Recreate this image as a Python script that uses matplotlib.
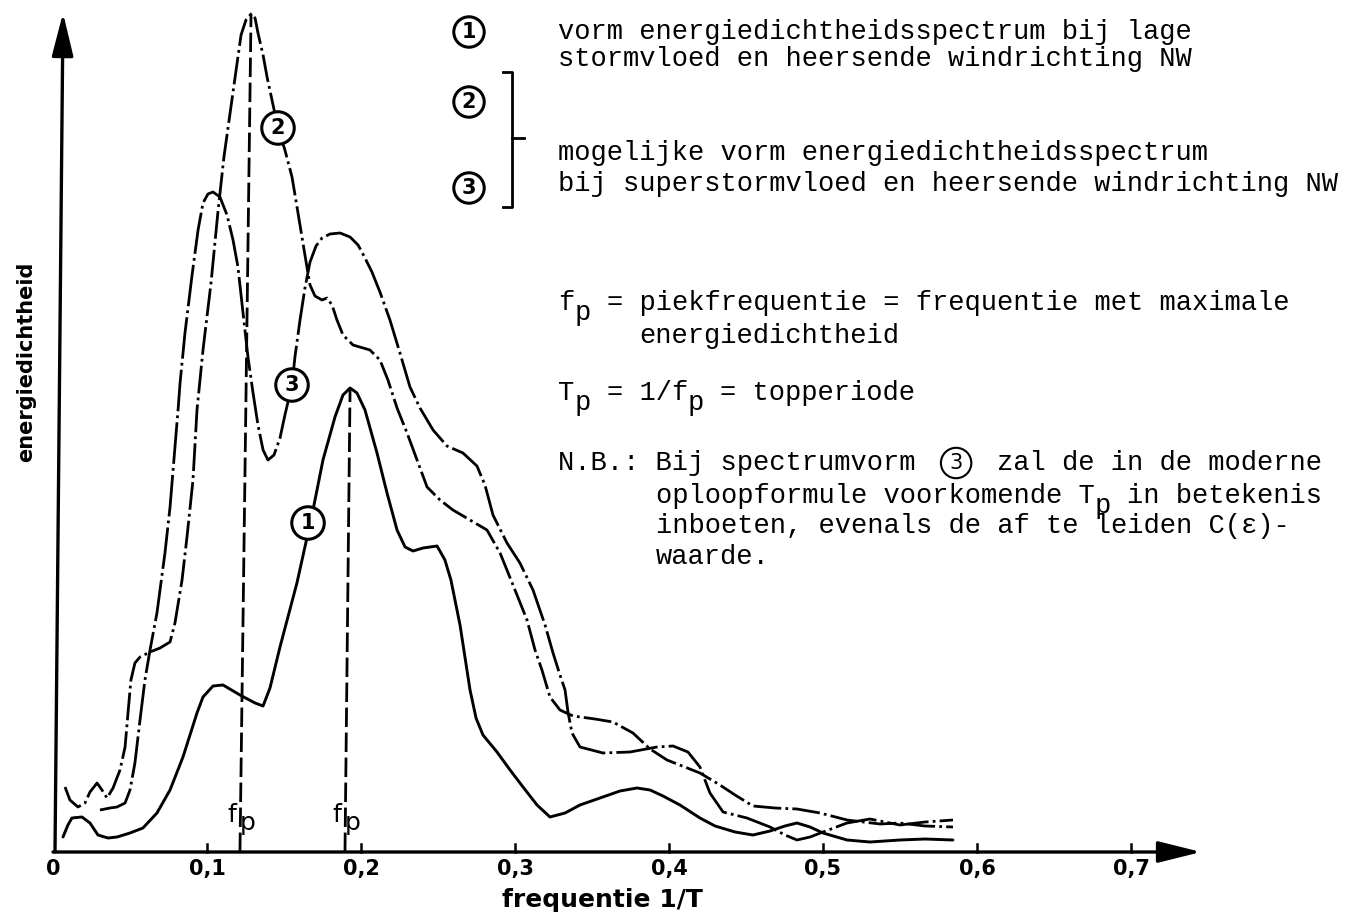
import matplotlib
matplotlib.use("Agg")
import matplotlib.pyplot as plt
from matplotlib.lines import Line2D

plt.rcParams['lines.scale_dashes'] = False

# spectrum 1: lage stormvloed (solid)
c1_freq = [0.0065, 0.0097, 0.0123, 0.0188, 0.0240, 0.0292, 0.0357, 0.0416, 0.0500, 0.0584,
           0.0675, 0.0760, 0.0844, 0.0935, 0.0974, 0.1039, 0.1104, 0.1214, 0.1312, 0.1364,
           0.1409, 0.1474, 0.1584, 0.1682, 0.1753, 0.1831, 0.1883, 0.1929, 0.1974, 0.2026,
           0.2104, 0.2169, 0.2234, 0.2286, 0.2338, 0.2403, 0.2494, 0.2545, 0.2584, 0.2643,
           0.2708, 0.2747, 0.2792, 0.2883, 0.2968, 0.3052, 0.3143, 0.3227, 0.3325, 0.3422,
           0.3552, 0.3682, 0.3792, 0.3877, 0.3961, 0.4071, 0.4201, 0.4299, 0.4429, 0.4545,
           0.4656, 0.4753, 0.4831, 0.4916, 0.5000, 0.5156, 0.5305, 0.5500, 0.5662, 0.5844]
c1_dens = [1.5, 2.7, 3.4, 3.5, 2.9, 1.7, 1.4, 1.5, 1.9, 2.4,
           3.9, 6.2, 9.5, 13.9, 15.5, 16.6, 16.7, 15.7, 14.9, 14.6,
           16.4, 20.5, 26.9, 33.7, 39.2, 43.5, 45.7, 46.4, 45.9, 44.2,
           39.9, 35.9, 32.2, 30.5, 30.1, 30.4, 30.6, 29.2, 27.2, 22.7,
           16.2, 13.4, 11.7, 10.0, 8.2, 6.5, 4.7, 3.5, 3.9, 4.7,
           5.4, 6.1, 6.4, 6.2, 5.6, 4.7, 3.4, 2.6, 2.0, 1.7,
           2.1, 2.6, 2.9, 2.5, 1.9, 1.2, 1.0, 1.2, 1.3, 1.2]

# spectrum 2: superstormvloed, single tall peak
c2_freq = [0.0078, 0.0110, 0.0162, 0.0208, 0.0240, 0.0286, 0.0318, 0.0351, 0.0390, 0.0435,
           0.0468, 0.0487, 0.0506, 0.0532, 0.0565, 0.0630, 0.0695, 0.0760, 0.0792, 0.0838,
           0.0870, 0.0909, 0.0935, 0.0974, 0.1026, 0.1071, 0.1110, 0.1169, 0.1221, 0.1253,
           0.1286, 0.1312, 0.1331, 0.1364, 0.1390, 0.1422, 0.1461, 0.1506, 0.1552, 0.1591,
           0.1623, 0.1649, 0.1669, 0.1701, 0.1747, 0.1779, 0.1812, 0.1844, 0.1883, 0.1948,
           0.2058, 0.2123, 0.2175, 0.2234, 0.2299, 0.2364, 0.2429, 0.2513, 0.2597, 0.2708,
           0.2818, 0.2903, 0.2987, 0.3078, 0.3130, 0.3175, 0.3227, 0.3292, 0.3377, 0.3519,
           0.3636, 0.3766, 0.3877, 0.3987, 0.4201, 0.4331, 0.4429, 0.4545, 0.4688, 0.4831,
           0.4981, 0.5156, 0.5370, 0.5500, 0.5662, 0.5844]
c2_dens = [6.5, 5.2, 4.5, 4.9, 6.0, 6.9, 6.2, 5.4, 6.4, 8.2,
           10.5, 13.9, 17.2, 18.9, 19.5, 20.0, 20.4, 21.0, 22.9, 27.2,
           31.5, 37.2, 44.2, 50.2, 56.9, 64.0, 69.5, 76.0, 81.7, 83.2,
           83.8, 83.4, 81.9, 79.7, 77.5, 75.2, 72.4, 70.2, 67.5, 63.9,
           60.9, 58.5, 56.7, 55.6, 55.2, 55.4, 54.7, 53.2, 51.7, 50.7,
           50.2, 49.2, 47.2, 44.4, 41.9, 39.2, 36.5, 35.2, 34.2, 33.2,
           32.2, 29.9, 26.7, 23.2, 20.2, 18.2, 15.5, 14.2, 13.6, 13.3,
           13.0, 11.9, 10.3, 9.2, 7.9, 6.7, 5.7, 4.6, 4.4, 4.3,
           3.9, 3.2, 2.8, 2.9, 2.6, 2.5]

# spectrum 3: superstormvloed, double peak
c3_freq = [0.0305, 0.0370, 0.0416, 0.0468, 0.0500, 0.0532, 0.0565, 0.0597, 0.0630, 0.0675,
           0.0727, 0.0760, 0.0792, 0.0812, 0.0825, 0.0857, 0.0903, 0.0942, 0.0974, 0.1006,
           0.1039, 0.1084, 0.1130, 0.1169, 0.1201, 0.1234, 0.1266, 0.1299, 0.1331, 0.1364,
           0.1396, 0.1435, 0.1474, 0.1506, 0.1552, 0.1571, 0.1604, 0.1636, 0.1669, 0.1708,
           0.1747, 0.1799, 0.1864, 0.1929, 0.1981, 0.2026, 0.2071, 0.2123, 0.2188, 0.2253,
           0.2318, 0.2383, 0.2468, 0.2558, 0.2662, 0.2753, 0.2805, 0.2857, 0.2948, 0.3032,
           0.3117, 0.3195, 0.3247, 0.3292, 0.3325, 0.3344, 0.3370, 0.3422, 0.3571, 0.3747,
           0.3922, 0.4026, 0.4123, 0.4201, 0.4266, 0.4351, 0.4506, 0.4656, 0.4753, 0.4831,
           0.4916, 0.5000, 0.5156, 0.5305, 0.5500, 0.5662, 0.5844]
c3_dens = [4.2, 4.4, 4.5, 4.9, 6.2, 8.9, 13.2, 17.2, 20.2, 23.9,
           29.9, 34.5, 40.5, 44.2, 46.9, 51.9, 57.7, 62.2, 64.9, 65.8,
           66.0, 65.5, 63.7, 61.2, 58.5, 53.9, 49.5, 45.9, 42.7, 40.2,
           39.2, 39.7, 41.4, 43.7, 46.7, 49.5, 53.2, 56.4, 59.0, 60.6,
           61.4, 61.8, 61.9, 61.5, 60.7, 59.4, 58.0, 56.0, 53.2, 49.9,
           46.5, 44.4, 42.2, 40.6, 39.9, 38.6, 36.7, 33.7, 30.9, 28.9,
           26.2, 22.7, 19.9, 17.7, 16.2, 14.0, 11.9, 10.5, 9.9, 10.0,
           10.5, 10.6, 10.0, 8.5, 5.9, 4.0, 3.4, 2.5, 1.7, 1.2,
           1.5, 2.0, 2.9, 3.3, 2.7, 3.0, 3.2]

# peak frequency markers (base freq, top freq, peak density)
fp_base = [0.1214, 0.1896]
fp_top = [0.1286, 0.1929]
fp_peak = [83.8, 46.4]

# circled curve numbers sitting on the curves
tag_text = ['1', '2', '3']
tag_freq = [0.1656, 0.1461, 0.1552]
tag_dens = [32.9, 72.4, 46.7]

xtick_vals = [0.1, 0.2, 0.3, 0.4, 0.5, 0.6, 0.7]
xtick_text = ['0,1', '0,2', '0,3', '0,4', '0,5', '0,6', '0,7']

W, H = 1345, 915
fig = plt.figure(figsize=(W / 100, H / 100), dpi=100)
ax = fig.add_axes([0, 0, 1, 1])
ax.set_xlim(-53 / 1540, 1292 / 1540)
ax.set_ylim(-6.3, 85.2)
ax.axis('off')

SANS = ['Liberation Sans Narrow', 'DejaVu Sans']
MONO = 'Liberation Mono'

# axes with arrows
arrow = dict(arrowstyle='-|>,head_length=1.2,head_width=0.3', lw=2.4,
             color='k', shrinkA=0, shrinkB=0, mutation_scale=22)
ax.annotate('', xy=(0.7455, 0), xytext=(0, 0), arrowprops=arrow)
ax.annotate('', xy=(0.0065, 83.9), xytext=(0.0013, 0), arrowprops=arrow)
for xv, lab in zip(xtick_vals, xtick_text):
    ax.plot([xv, xv], [0, 0.8], color='k', lw=1.8)
    ax.text(xv, -1.7, lab, ha='center', va='center', fontsize=15,
            fontweight='bold', family=SANS)
ax.text(0, -1.7, '0', ha='center', va='center', fontsize=15, fontweight='bold', family=SANS)

# curves
ax.plot(c1_freq, c1_dens, color='k', lw=2.1, solid_capstyle='round')
ax.plot(c2_freq, c2_dens, color='k', lw=2.0, linestyle=(0, (20, 3, 2, 3)))
ax.plot(c3_freq, c3_dens, color='k', lw=2.0, linestyle=(0, (30, 3, 2, 3)))

# peak frequency lines
for b, t, pk in zip(fp_base, fp_top, fp_peak):
    ax.plot([b, t], [0, pk], color='k', lw=2.0, linestyle=(0, (14, 4)))
    ax.text(b - 0.0055, 3.7, 'f', ha='center', va='center', fontsize=18, family=SANS)
    ax.text(b + 0.0050, 2.9, 'p', ha='center', va='center', fontsize=18, family=SANS)

for s, fx, dy in zip(tag_text, tag_freq, tag_dens):
    ax.text(fx, dy, s, ha='center', va='center', fontsize=15, fontweight='bold',
            family=SANS, zorder=6,
            bbox=dict(boxstyle='circle,pad=0.3', fc='white', ec='k', lw=2.2))

# axis titles
fig.text(602 / W, 1 - 900 / H, 'frequentie 1/T', ha='center', va='center',
         fontsize=18, fontweight='bold', family=SANS)
fig.text(26 / W, 1 - 362 / H, 'energiedichtheid', ha='center', va='center',
         rotation=90, fontsize=15, fontweight='bold', family=SANS)

# typewriter notes
FS = 19.5
CW = 0.6 * FS * 100 / 72
X0 = 558


def typed(px, py, s, lowered=()):
    # monospaced line; characters at the 'lowered' positions sit half a line down
    cuts = sorted(lowered)
    start = 0
    for i in cuts + [len(s)]:
        seg = s[start:i].rstrip()
        lead = len(seg) - len(seg.lstrip())
        if seg.strip():
            fig.text((px + (start + lead) * CW) / W, 1 - py / H, seg.strip(),
                     ha='left', va='center', fontsize=FS, family=MONO)
        if i < len(s):
            fig.text((px + i * CW) / W, 1 - (py + 10) / H, s[i], ha='left',
                     va='center', fontsize=FS, family=MONO)
        start = i + 1


def circled(px, py, s, size=15, lw=2.2, weight='bold'):
    fig.text(px / W, 1 - py / H, s, ha='center', va='center', fontsize=size,
             fontweight=weight, family=SANS,
             bbox=dict(boxstyle='circle,pad=0.25', fc='white', ec='k', lw=lw))


circled(469, 32, '1')
circled(469, 102, '2')
circled(469, 188, '3')
typed(X0, 32, 'vorm energiedichtheidsspectrum bij lage')
typed(X0, 59, 'stormvloed en heersende windrichting NW')
typed(X0, 153, 'mogelijke vorm energiedichtheidsspectrum')
typed(X0, 184, 'bij superstormvloed en heersende windrichting NW')

bx = [503 / W, 512 / W, 512 / W, 503 / W]
by = [1 - 72 / H, 1 - 72 / H, 1 - 207 / H, 1 - 207 / H]
fig.add_artist(Line2D(bx, by, color='k', lw=2, transform=fig.transFigure))
fig.add_artist(Line2D([512 / W, 524 / W], [1 - 138 / H, 1 - 138 / H], color='k', lw=2,
                      transform=fig.transFigure))

typed(X0, 303, 'fp = piekfrequentie = frequentie met maximale', lowered=[1])
typed(X0 + 5 * CW, 336, 'energiedichtheid')
typed(X0, 393, 'Tp = 1/fp = topperiode', lowered=[1, 8])
typed(X0, 463, 'N.B.: Bij spectrumvorm')
circled(X0 + 24.5 * CW, 463, '3', size=15, lw=1.5, weight='normal')
typed(X0 + 27 * CW, 463, 'zal de in de moderne')
typed(X0 + 6 * CW, 496, 'oploopformule voorkomende Tp in betekenis', lowered=[27])
typed(X0 + 6 * CW, 526, 'inboeten, evenals de af te leiden C(\u03b5)-')
typed(X0 + 6 * CW, 557, 'waarde.')

fig.savefig('out.png', dpi=100, facecolor='white')
